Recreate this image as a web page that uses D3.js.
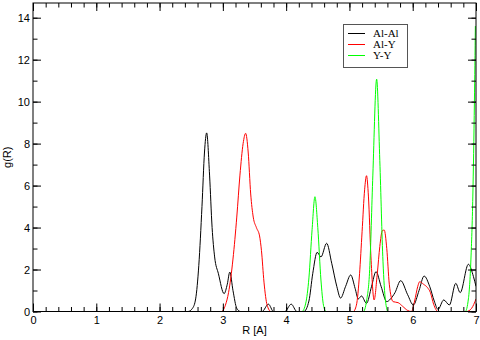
<html lang='en'>
    <head>
        <meta charset='utf-8'>
        <title>g(R)</title>
        <script src="https://d3js.org/d3.v7.min.js"></script>
        <style>
            body { margin: 0; background: #fff; }
            text { font-family: 'Liberation Sans', Arial, sans-serif; }
            .leg { font-family: 'Liberation Serif', 'Times New Roman', serif; font-size: 11px; }
        </style>
    </head>
    <body>
        <script>
            // Al-Al
            var rAlAl = [0, 2.45, 2.52, 2.57, 2.62, 2.67, 2.71, 2.744, 2.79, 2.83, 2.87, 2.93, 3.02, 3.07, 3.11, 3.16, 3.22, 3.28,
                         3.62, 3.72, 3.80, 3.98, 4.08, 4.17, 4.28, 4.36, 4.42, 4.49, 4.55, 4.64, 4.72, 4.80, 4.86, 4.94, 5.02,
                         5.09, 5.14, 5.19, 5.27, 5.35, 5.42, 5.50, 5.59, 5.65, 5.72, 5.81, 5.92, 6.01, 6.10, 6.18, 6.27, 6.34,
                         6.40, 6.49, 6.58, 6.68, 6.75, 6.88, 6.96, 7.0];
            var gAlAl = [0, 0, 0.15, 0.6, 2.2, 5.0, 7.6, 8.51, 6.5, 4.0, 2.6, 1.8, 0.85, 1.3, 1.88, 1.0, 0.15, 0,
                         0, 0.35, 0, 0, 0.35, 0, 0, 0.5, 1.8, 2.82, 2.6, 3.25, 2.3, 1.2, 0.64, 1.2, 1.74,
                         1.1, 0.6, 0.74, 0.39, 1.2, 1.9, 1.2, 0.47, 0.6, 0.9, 1.47, 0.8, 0.31, 1.0, 1.69, 1.18, 0.5,
                         0.1, 0.55, 0.31, 1.34, 0.9, 2.25, 1.66, 1.2];

            // Al-Y
            var rAlY = [0, 2.98, 3.04, 3.09, 3.16, 3.22, 3.27, 3.32, 3.36, 3.40, 3.44, 3.48, 3.53, 3.58, 3.61, 3.65, 3.70, 3.76,
                        5.06, 5.11, 5.16, 5.20, 5.24, 5.27, 5.30, 5.34, 5.39, 5.44, 5.48, 5.52, 5.55, 5.59, 5.63, 5.69, 5.77,
                        5.84, 5.92, 5.98, 6.03, 6.08, 6.11, 6.17, 6.23, 6.28, 6.33, 6.40, 6.85, 6.93, 7.0];
            var gAlY = [0, 0, 0.3, 0.9, 2.5, 4.5, 6.5, 8.0, 8.49, 7.6, 5.6, 4.5, 4.0, 3.6, 2.9, 1.4, 0.3, 0,
                        0, 0.3, 1.8, 3.8, 5.8, 6.47, 5.5, 2.6, 0.55, 1.8, 3.1, 3.85, 3.88, 3.0, 1.3, 0.47, 0.42,
                        0.25, 0.05, 0, 0.5, 1.2, 1.42, 1.3, 1.15, 0.9, 0.35, 0, 0, 0.15, 0.6];

            // Y-Y
            var rYY = [0, 4.25, 4.31, 4.36, 4.41, 4.455, 4.50, 4.55, 4.59, 4.63,
                       5.22, 5.27, 5.32, 5.37, 5.43, 5.48, 5.53, 5.57, 5.61,
                       6.83, 6.88, 6.92, 6.95, 6.975, 6.99];
            var gYY = [0, 0, 0.4, 1.6, 3.9, 5.47, 4.0, 1.5, 0.3, 0,
                       0, 0.5, 2.0, 6.5, 11.07, 7.2, 2.4, 0.5, 0,
                       0, 0.6, 2.5, 5.5, 10.0, 13.6];

            var seriesNames = ['Al-Al', 'Al-Y', 'Y-Y'];
            var seriesColors = ['#000000', '#ff0000', '#00ff00'];
            var xTicks = [0, 1, 2, 3, 4, 5, 6, 7];
            var yTicks = [0, 2, 4, 6, 8, 10, 12, 14];

            var width = 480;
            var height = 340;
            var pLeft = 33, pRight = 476, pTop = 3, pBottom = 311.5;

            var x = d3.scaleLinear().domain([0, 7]).range([pLeft, pRight]);
            var y = d3.scaleLinear().domain([0, 14.7]).range([pBottom, pTop]);

            var svg = d3.select('body')
                        .append('svg')
                        .attr('width', width)
                        .attr('height', height);

            svg.append('clipPath').attr('id', 'clip')
               .append('rect')
               .attr('x', pLeft).attr('y', pTop)
               .attr('width', pRight - pLeft).attr('height', pBottom - pTop);

            //lines
            var line = d3.line()
                         .x(function(d) { return x(d[0]); })
                         .y(function(d) { return y(d[1]); })
                         .curve(d3.curveMonotoneX);

            var rs = [rAlAl, rAlY, rYY];
            var gs = [gAlAl, gAlY, gYY];
            var plot = svg.append('g').attr('clip-path', 'url(#clip)');
            for (var i = 0; i < 3; i++) {
                var pts = rs[i].map(function(r, j) { return [r, gs[i][j]]; });
                plot.append('path')
                    .datum(pts)
                    .attr('d', line)
                    .attr('fill', 'none')
                    .attr('stroke', seriesColors[i])
                    .attr('stroke-width', 1);
            }

            //axes, ticks point inward
            var xMinor = d3.range(0, 7.001, 0.2);
            var yMinor = d3.range(0, 14.7, 1);

            function addAxis(axis, tr, labels) {
                var g = svg.append('g').attr('transform', tr).call(axis);
                g.select('.domain').remove();
                g.selectAll('line').attr('stroke', '#000');
                if (!labels) g.selectAll('text').remove();
                return g;
            }

            // minor
            addAxis(d3.axisBottom(x).tickValues(xMinor).tickSize(-4.5).tickFormat(''), 'translate(0,' + pBottom + ')', false);
            addAxis(d3.axisTop(x).tickValues(xMinor).tickSize(-4.5).tickFormat(''), 'translate(0,' + pTop + ')', false);
            addAxis(d3.axisLeft(y).tickValues(yMinor).tickSize(-4.5).tickFormat(''), 'translate(' + pLeft + ',0)', false);
            addAxis(d3.axisRight(y).tickValues(yMinor).tickSize(-4.5).tickFormat(''), 'translate(' + pRight + ',0)', false);

            // major
            var xb = addAxis(d3.axisBottom(x).tickValues(xTicks).tickSize(-8).tickPadding(5).tickFormat(d3.format('d')), 'translate(0,' + pBottom + ')', true);
            addAxis(d3.axisTop(x).tickValues(xTicks).tickSize(-8), 'translate(0,' + pTop + ')', false);
            var yl = addAxis(d3.axisLeft(y).tickValues(yTicks).tickSize(-8).tickPadding(3).tickFormat(d3.format('d')), 'translate(' + pLeft + ',0)', true);
            addAxis(d3.axisRight(y).tickValues(yTicks).tickSize(-8), 'translate(' + pRight + ',0)', false);

            xb.selectAll('text').attr('font-size', 11).attr('font-family', "'Liberation Sans', Arial, sans-serif").attr('fill', '#000');
            yl.selectAll('text').attr('font-size', 11).attr('font-family', "'Liberation Sans', Arial, sans-serif").attr('fill', '#000');

            //frame
            svg.append('rect')
               .attr('x', pLeft).attr('y', pTop)
               .attr('width', pRight - pLeft).attr('height', pBottom - pTop)
               .attr('fill', 'none')
               .attr('stroke', '#000')
               .attr('stroke-width', 1);

            //axis labels
            svg.append('text')
               .attr('x', (pLeft + pRight) / 2)
               .attr('y', 334)
               .attr('text-anchor', 'middle')
               .attr('font-size', 11)
               .text('R [A]');

            svg.append('text')
               .attr('transform', 'translate(11,' + ((pTop + pBottom) / 2) + ') rotate(-90)')
               .attr('text-anchor', 'middle')
               .attr('font-size', 11)
               .text('g(R)');

            //legend
            var leg = svg.append('g');
            leg.append('rect')
               .attr('x', 343.5).attr('y', 24.5)
               .attr('width', 64).attr('height', 43)
               .attr('fill', '#fff')
               .attr('stroke', '#555');
            seriesNames.forEach(function(name, i) {
                var yy = 33.5 + i * 11;
                leg.append('line')
                   .attr('x1', 348).attr('x2', 365)
                   .attr('y1', yy).attr('y2', yy)
                   .attr('stroke', seriesColors[i]);
                leg.append('text')
                   .attr('class', 'leg')
                   .attr('x', 373).attr('y', yy + 3.5)
                   .text(name);
            });
        </script>
    </body>
</html>
